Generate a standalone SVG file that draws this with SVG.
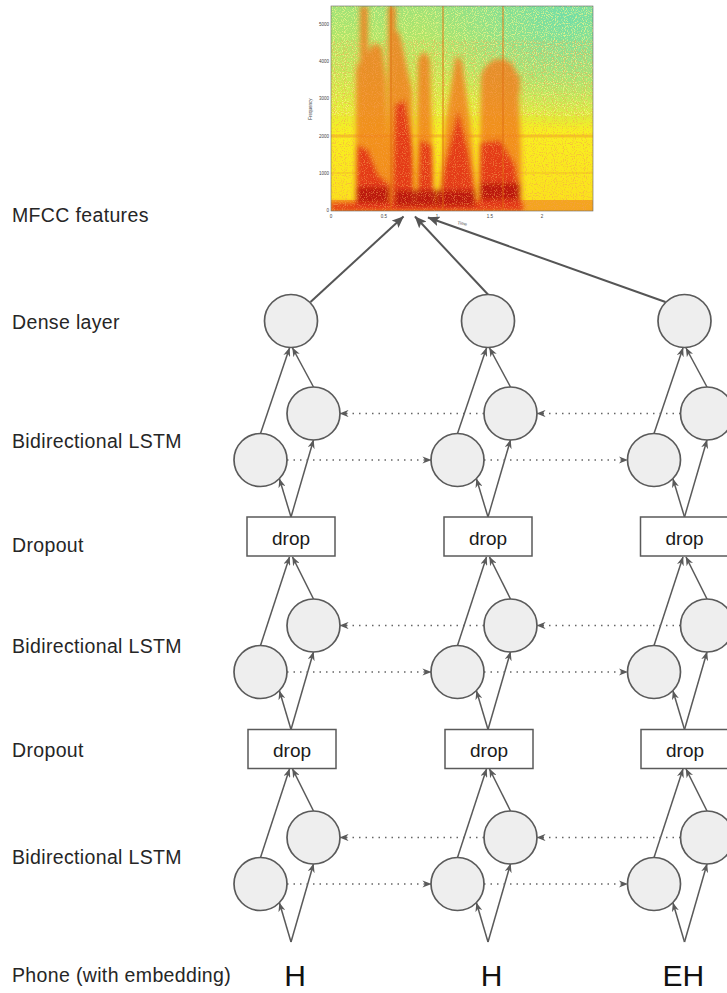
<svg xmlns="http://www.w3.org/2000/svg" width="727" height="993" viewBox="0 0 727 993">
<style>
.lbl{font-family:"Liberation Sans",Arial,sans-serif;font-size:19.5px;fill:#262626;letter-spacing:0.35px}
.node{fill:#eeeeee;stroke:#5a5a5a;stroke-width:1.7}
.box{fill:#ffffff;stroke:#5a5a5a;stroke-width:1.5}
.btxt{font-family:"Liberation Sans",Arial,sans-serif;font-size:19px;fill:#1a1a1a;text-anchor:middle}
.ph{font-family:"Liberation Sans",Arial,sans-serif;font-size:30px;fill:#111;text-anchor:middle}
.e{fill:none;stroke:#5a5a5a;stroke-width:1.5;marker-end:url(#arr)}
.d{fill:none;stroke:#666;stroke-width:1.6;stroke-dasharray:1.5 5;marker-end:url(#arr)}
.m{fill:none;stroke:#555;stroke-width:2;marker-end:url(#big)}
.tk{font-family:"Liberation Sans",Arial,sans-serif;font-size:4.5px;fill:#444}
</style>
<defs>
<marker id="arr" viewBox="0 0 10 8" refX="9.5" refY="4" markerWidth="9" markerHeight="7.2" markerUnits="userSpaceOnUse" orient="auto">
<path d="M0,0 L10,4 L0,8 L3,4 Z" fill="#5a5a5a"/>
</marker>
<marker id="big" viewBox="0 0 12 10" refX="11.5" refY="5" markerWidth="12" markerHeight="10" markerUnits="userSpaceOnUse" orient="auto">
<path d="M0,0 L12,5 L0,10 L2.5,5 Z" fill="#555"/>
</marker>
<linearGradient id="bg" x1="0" y1="0" x2="0" y2="1">
<stop offset="0" stop-color="#9ee27a"/>
<stop offset="0.3" stop-color="#bfe85a"/>
<stop offset="0.5" stop-color="#e2ef38"/>
<stop offset="0.62" stop-color="#f8f020"/>
<stop offset="1" stop-color="#fbe01c"/>
</linearGradient>
<radialGradient id="cy" cx="0.9" cy="0.05" r="0.55">
<stop offset="0" stop-color="#62dcb8" stop-opacity="0.75"/>
<stop offset="1" stop-color="#62dcb8" stop-opacity="0"/>
</radialGradient>
<filter id="blur" x="-0.2" y="-0.2" width="1.4" height="1.4"><feGaussianBlur stdDeviation="2.6"/></filter>
<filter id="noiseO" x="0" y="0" width="1" height="1">
<feTurbulence type="fractalNoise" baseFrequency="0.9" numOctaves="1" seed="4"/>
<feColorMatrix type="matrix" values="0 0 0 0 0.93  0 0 0 0 0.35  0 0 0 0 0.08  6 0 0 0 -3.1"/>
</filter>
<filter id="noiseY" x="0" y="0" width="1" height="1">
<feTurbulence type="fractalNoise" baseFrequency="0.9" numOctaves="1" seed="9"/>
<feColorMatrix type="matrix" values="0 0 0 0 0.97  0 0 0 0 0.92  0 0 0 0 0.25  6 0 0 0 -3.0"/>
</filter>
<clipPath id="plot"><rect x="331" y="6" width="262" height="205"/></clipPath>
</defs>

<g id="spectrogram">
<g clip-path="url(#plot)">
<rect x="331" y="6" width="262" height="205" fill="url(#bg)"/>
<rect x="331" y="6" width="262" height="205" fill="url(#cy)"/>
<rect x="331" y="6" width="262" height="110" filter="url(#noiseY)" opacity="0.7"/>
<line x1="331" y1="136" x2="593" y2="136" stroke="#f0a020" stroke-width="3" opacity="0.5"/>
<line x1="331" y1="173" x2="593" y2="173" stroke="#f0b020" stroke-width="2" opacity="0.3"/>
<rect x="331" y="200" width="262" height="11" fill="#f29020" opacity="0.75"/>
<g filter="url(#blur)">
<g fill="#f07a18" opacity="0.8">
<path d="M356,211 L356,70 Q360,55 366,60 L370,48 Q376,40 382,48 L386,80 L390,211 Z"/>
<rect x="360" y="6" width="8" height="80"/>
<rect x="388" y="6" width="8" height="205"/>
<path d="M390,211 L392,40 Q398,20 402,45 L412,90 L414,211 Z"/>
<path d="M416,211 L418,60 Q424,45 430,60 L434,211 Z"/>
<path d="M437,211 L446,120 L455,60 Q458,52 462,62 L470,120 L478,211 Z"/>
<path d="M479,211 L481,75 Q490,55 505,60 Q515,62 518,80 L521,150 L522,211 Z"/>
<rect x="512" y="75" width="8" height="18"/>
</g>
<g fill="#e02412" opacity="0.8">
<path d="M356,211 L357,145 L368,150 L378,175 L390,185 L390,211 Z"/>
<path d="M392,211 L395,105 L405,100 L413,150 L414,211 Z"/>
<path d="M417,211 L420,140 L432,145 L434,211 Z"/>
<path d="M438,211 L445,165 L458,110 L468,150 L478,211 Z"/>
<path d="M479,211 L480,143 L500,140 L515,165 L522,211 Z"/>
<rect x="331" y="203" width="192" height="8"/>
</g>
<g fill="#b01008" opacity="0.8">
<rect x="357" y="187" width="33" height="16"/>
<rect x="480" y="183" width="40" height="17"/>
<rect x="395" y="190" width="80" height="16"/>
</g>
</g>
<rect x="331" y="40" width="262" height="171" filter="url(#noiseO)" opacity="0.55"/>
<g stroke="#e06a10" stroke-width="1.2" opacity="0.75">
<line x1="443" y1="6" x2="443" y2="211"/>
<line x1="503" y1="6" x2="503" y2="211"/>
<line x1="391" y1="6" x2="391" y2="211"/>
</g>
</g>
<rect x="331" y="6" width="262" height="205" fill="none" stroke="#666" stroke-width="0.6"/>
<g class="tk" text-anchor="end">
<text x="329" y="26">5000</text>
<text x="329" y="63">4000</text>
<text x="329" y="100">3000</text>
<text x="329" y="137.5">2000</text>
<text x="329" y="174.5">1000</text>
<text x="329" y="212">0</text>
</g>
<g class="tk" text-anchor="middle">
<text x="331" y="218">0</text>
<text x="384" y="218">0.5</text>
<text x="437" y="218">1</text>
<text x="490" y="218">1.5</text>
<text x="542" y="218">2</text>
<text x="462" y="225" transform="rotate(10 462 225)">Time</text>
<text x="312" y="109" transform="rotate(-90 312 109)">Frequency</text>
</g>
</g>

<g id="labels">
<text class="lbl" x="12" y="222">MFCC features</text>
<text class="lbl" x="12" y="329">Dense layer</text>
<text class="lbl" x="12" y="448">Bidirectional LSTM</text>
<text class="lbl" x="12" y="552">Dropout</text>
<text class="lbl" x="12" y="653">Bidirectional LSTM</text>
<text class="lbl" x="12" y="757">Dropout</text>
<text class="lbl" x="12" y="864">Bidirectional LSTM</text>
<text class="lbl" x="12" y="982">Phone (with embedding)</text>
</g>

<g id="connectors">
<path class="m" d="M310.5,302 L403.5,216.5"/>
<path class="m" d="M488,294.5 L415,216.5"/>
<path class="m" d="M665.5,302 L428,217.5"/>
<path class="e" d="M291,517 L279.5,479"/>
<path class="e" d="M291,517 L313.5,440"/>
<path class="e" d="M260.5,433.5 L289.5,348"/>
<path class="e" d="M313.5,387 L292.5,348"/>
<path class="e" d="M291,729.5 L279.5,691"/>
<path class="e" d="M291,729.5 L313.5,652"/>
<path class="e" d="M260.5,645.5 L289.5,557"/>
<path class="e" d="M313.5,599 L292.5,557"/>
<path class="e" d="M291,942 L279.5,903"/>
<path class="e" d="M291,942 L313.5,864"/>
<path class="e" d="M260.5,857.5 L289.5,769"/>
<path class="e" d="M313.5,811 L292.5,769"/>
<path class="e" d="M488,517 L476.5,479"/>
<path class="e" d="M488,517 L510.5,440"/>
<path class="e" d="M457.5,433.5 L486.5,348"/>
<path class="e" d="M510.5,387 L489.5,348"/>
<path class="e" d="M488,729.5 L476.5,691"/>
<path class="e" d="M488,729.5 L510.5,652"/>
<path class="e" d="M457.5,645.5 L486.5,557"/>
<path class="e" d="M510.5,599 L489.5,557"/>
<path class="e" d="M488,942 L476.5,903"/>
<path class="e" d="M488,942 L510.5,864"/>
<path class="e" d="M457.5,857.5 L486.5,769"/>
<path class="e" d="M510.5,811 L489.5,769"/>
<path class="e" d="M684.5,517 L673,479"/>
<path class="e" d="M684.5,517 L707,440"/>
<path class="e" d="M654,433.5 L683,348"/>
<path class="e" d="M707,387 L686,348"/>
<path class="e" d="M684.5,729.5 L673,691"/>
<path class="e" d="M684.5,729.5 L707,652"/>
<path class="e" d="M654,645.5 L683,557"/>
<path class="e" d="M707,599 L686,557"/>
<path class="e" d="M684.5,942 L673,903"/>
<path class="e" d="M684.5,942 L707,864"/>
<path class="e" d="M654,857.5 L683,769"/>
<path class="e" d="M707,811 L686,769"/>
<path class="d" d="M287,460 L431,460"/>
<path class="d" d="M484,460 L627.5,460"/>
<path class="d" d="M484,413.5 L340,413.5"/>
<path class="d" d="M680.5,413.5 L537,413.5"/>
<path class="d" d="M287,672 L431,672"/>
<path class="d" d="M484,672 L627.5,672"/>
<path class="d" d="M484,625.5 L340,625.5"/>
<path class="d" d="M680.5,625.5 L537,625.5"/>
<path class="d" d="M287,884 L431,884"/>
<path class="d" d="M484,884 L627.5,884"/>
<path class="d" d="M484,837.5 L340,837.5"/>
<path class="d" d="M680.5,837.5 L537,837.5"/>
</g>

<g id="dense1"><circle class="node" cx="291" cy="321" r="26.5"/></g>
<g id="dense2"><circle class="node" cx="488" cy="321" r="26.5"/></g>
<g id="dense3"><circle class="node" cx="684.5" cy="321" r="26.5"/></g>

<g id="lstm1-b1"><circle class="node" cx="313.5" cy="413.5" r="26.5"/></g>
<g id="lstm1-f1"><circle class="node" cx="260.5" cy="460" r="26.5"/></g>
<g id="lstm1-b2"><circle class="node" cx="510.5" cy="413.5" r="26.5"/></g>
<g id="lstm1-f2"><circle class="node" cx="457.5" cy="460" r="26.5"/></g>
<g id="lstm1-b3"><circle class="node" cx="707" cy="413.5" r="26.5"/></g>
<g id="lstm1-f3"><circle class="node" cx="654" cy="460" r="26.5"/></g>

<g id="drop1-1"><rect class="box" x="247" y="517" width="88" height="39"/><text class="btxt" x="291" y="545">drop</text></g>
<g id="drop1-2"><rect class="box" x="444" y="517" width="88" height="39"/><text class="btxt" x="488" y="545">drop</text></g>
<g id="drop1-3"><rect class="box" x="640.5" y="517" width="88" height="39"/><text class="btxt" x="684.5" y="545">drop</text></g>

<g id="lstm2-b1"><circle class="node" cx="313.5" cy="625.5" r="26.5"/></g>
<g id="lstm2-f1"><circle class="node" cx="260.5" cy="672" r="26.5"/></g>
<g id="lstm2-b2"><circle class="node" cx="510.5" cy="625.5" r="26.5"/></g>
<g id="lstm2-f2"><circle class="node" cx="457.5" cy="672" r="26.5"/></g>
<g id="lstm2-b3"><circle class="node" cx="707" cy="625.5" r="26.5"/></g>
<g id="lstm2-f3"><circle class="node" cx="654" cy="672" r="26.5"/></g>

<g id="drop2-1"><rect class="box" x="248" y="729.5" width="88" height="39"/><text class="btxt" x="292" y="757">drop</text></g>
<g id="drop2-2"><rect class="box" x="445" y="729.5" width="88" height="39"/><text class="btxt" x="489" y="757">drop</text></g>
<g id="drop2-3"><rect class="box" x="641" y="729.5" width="88" height="39"/><text class="btxt" x="685" y="757">drop</text></g>

<g id="lstm3-b1"><circle class="node" cx="313.5" cy="837.5" r="26.5"/></g>
<g id="lstm3-f1"><circle class="node" cx="260.5" cy="884" r="26.5"/></g>
<g id="lstm3-b2"><circle class="node" cx="510.5" cy="837.5" r="26.5"/></g>
<g id="lstm3-f2"><circle class="node" cx="457.5" cy="884" r="26.5"/></g>
<g id="lstm3-b3"><circle class="node" cx="707" cy="837.5" r="26.5"/></g>
<g id="lstm3-f3"><circle class="node" cx="654" cy="884" r="26.5"/></g>

<g id="phone1"><text class="ph" x="295" y="986">H</text></g>
<g id="phone2"><text class="ph" x="491.7" y="986">H</text></g>
<g id="phone3"><text class="ph" x="683.3" y="986">EH</text></g>
</svg>
